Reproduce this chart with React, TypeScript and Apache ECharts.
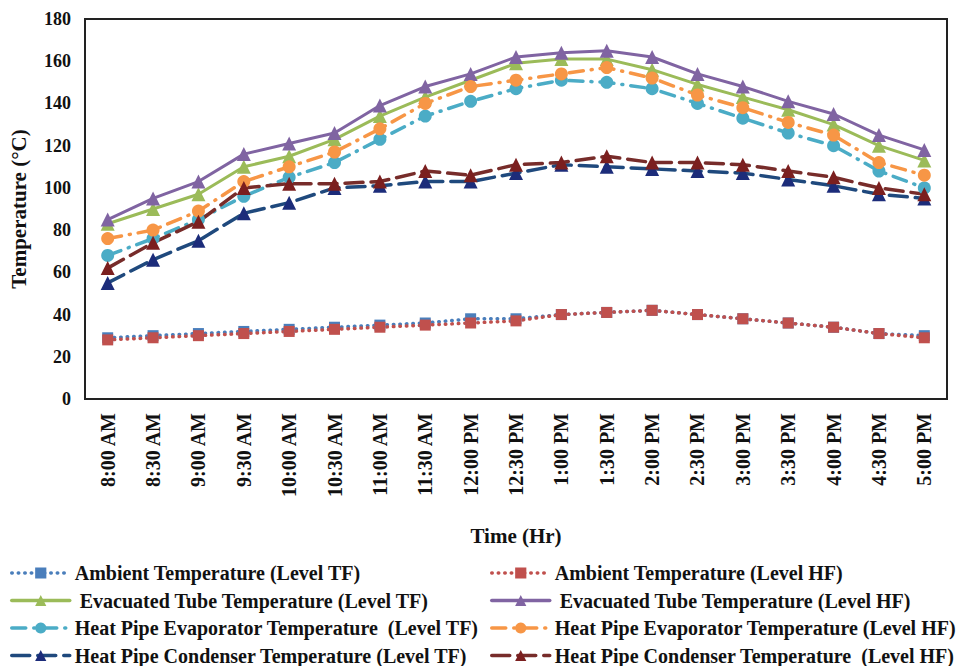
import React, { useEffect, useRef } from "react";
import * as echarts from "echarts";

const categories = [
  "8:00 AM", "8:30 AM", "9:00 AM", "9:30 AM", "10:00 AM", "10:30 AM", "11:00 AM",
  "11:30 AM", "12:00 PM", "12:30 PM", "1:00 PM", "1:30 PM", "2:00 PM", "2:30 PM",
  "3:00 PM", "3:30 PM", "4:00 PM", "4:30 PM", "5:00 PM",
];

const ambientTF = [29, 30, 31, 32, 33, 34, 35, 36, 38, 38, 40, 41, 42, 40, 38, 36, 34, 31, 30];
const ambientHF = [28, 29, 30, 31, 32, 33, 34, 35, 36, 37, 40, 41, 42, 40, 38, 36, 34, 31, 29];
const tubeTF = [83, 90, 97, 110, 115, 123, 134, 143, 151, 159, 161, 161, 156, 149, 143, 137, 130, 120, 113];
const tubeHF = [85, 95, 103, 116, 121, 126, 139, 148, 154, 162, 164, 165, 162, 154, 148, 141, 135, 125, 118];
const evapTF = [68, 76, 85, 96, 105, 112, 123, 134, 141, 147, 151, 150, 147, 140, 133, 126, 120, 108, 100];
const evapHF = [76, 80, 89, 103, 110, 117, 128, 140, 148, 151, 154, 157, 152, 144, 138, 131, 125, 112, 106];
const condTF = [55, 66, 75, 88, 93, 100, 101, 103, 103, 107, 111, 110, 109, 108, 107, 104, 101, 97, 95];
const condHF = [62, 74, 84, 100, 102, 102, 103, 108, 106, 111, 112, 115, 112, 112, 111, 108, 105, 100, 97];

const yTicks = { min: 0, max: 180, interval: 20 };

const namesTF = [
  "Ambient Temperature (Level TF)",
  " Evacuated Tube Temperature (Level TF)",
  "Heat Pipe Evaporator Temperature  (Level TF)",
  "Heat Pipe Condenser Temperature (Level TF)",
];
const namesHF = [
  "Ambient Temperature (Level HF)",
  " Evacuated Tube Temperature (Level HF)",
  "Heat Pipe Evaporator Temperature (Level HF)",
  "Heat Pipe Condenser Temperature  (Level HF)",
];

const FONT = "'Liberation Serif', 'Times New Roman', serif";

function mk(name: string, data: number[], color: string, symColor: string, symbol: string, size: number, type: any, width: number) {
  return {
    name,
    type: "line",
    data,
    symbol,
    symbolSize: size,
    itemStyle: { color: symColor },
    lineStyle: { color, width, type, cap: "round" },
    emphasis: { disabled: true },
  };
}

export default function App() {
  const ref = useRef<HTMLDivElement>(null);
  useEffect(() => {
    document.body.style.margin = "0";
    const chart = echarts.init(ref.current!, null, { renderer: "svg" });
    const dotted = [0.5, 6];
    const dashDot = [14, 8, 1, 8];
    const longDash = [18, 8];
    const series = [
      mk(namesTF[0], ambientTF, "#4A7EBB", "#4A7EBB", "rect", 11, dotted, 3.5),
      mk(namesHF[0], ambientHF, "#C0504D", "#C0504D", "rect", 11, dotted, 3.5),
      mk(namesTF[1], tubeTF, "#9BBB59", "#9BBB59", "triangle", 14, "solid", 3),
      mk(namesHF[1], tubeHF, "#8064A2", "#8064A2", "triangle", 14, "solid", 3),
      mk(namesTF[2], evapTF, "#4BACC6", "#4BACC6", "circle", 13, dashDot, 3.5),
      mk(namesHF[2], evapHF, "#F79646", "#F79646", "circle", 13, dashDot, 3.5),
      mk(namesTF[3], condTF, "#1F497D", "#1C2C7A", "triangle", 14, longDash, 3.5),
      mk(namesHF[3], condHF, "#772C2A", "#7B1F1F", "triangle", 14, longDash, 3.5),
    ];
    const legendCommon = {
      orient: "vertical",
      padding: 0,
      itemWidth: 58,
      itemHeight: 14,
      itemGap: 7.5,
      height: 110,
      lineStyle: { width: 3.5 },
      textStyle: { fontFamily: FONT, fontWeight: "bold", fontSize: 20, color: "#111", lineHeight: 20 },
      selectedMode: false,
    };
    chart.setOption({
      animation: false,
      backgroundColor: "#fff",
      grid: {
        left: 82,
        right: 9,
        top: 19,
        bottom: 267,
        show: true,
        borderColor: "#222",
        borderWidth: 2,
        backgroundColor: "transparent",
      },
      legend: [
        { ...legendCommon, left: 10, top: 563, data: namesTF },
        { ...legendCommon, left: 490, top: 563, data: namesHF },
      ],
      xAxis: {
        type: "category",
        data: categories,
        boundaryGap: true,
        axisLine: { show: false },
        axisTick: { show: false },
        axisLabel: {
          rotate: 90,
          interval: 0,
          margin: 14,
          fontFamily: FONT,
          fontWeight: "bold",
          fontSize: 20,
          color: "#111",
        },
        name: "Time (Hr)",
        nameLocation: "middle",
        nameGap: 126,
        nameTextStyle: { fontFamily: FONT, fontWeight: "bold", fontSize: 21, color: "#111", verticalAlign: "top" },
      },
      yAxis: {
        type: "value",
        min: yTicks.min,
        max: yTicks.max,
        interval: yTicks.interval,
        axisLine: { show: false },
        axisTick: { show: false },
        splitLine: { show: false },
        axisLabel: {
          margin: 14,
          fontFamily: FONT,
          fontWeight: "bold",
          fontSize: 18,
          color: "#111",
        },
        name: "Temperature (°C)",
        nameLocation: "middle",
        nameGap: 56,
        nameTextStyle: { fontFamily: FONT, fontWeight: "bold", fontSize: 21, color: "#111" },
      },
      series,
    });
    return () => chart.dispose();
  }, []);
  return <div ref={ref} style={{ width: 956, height: 666 }} />;
}
